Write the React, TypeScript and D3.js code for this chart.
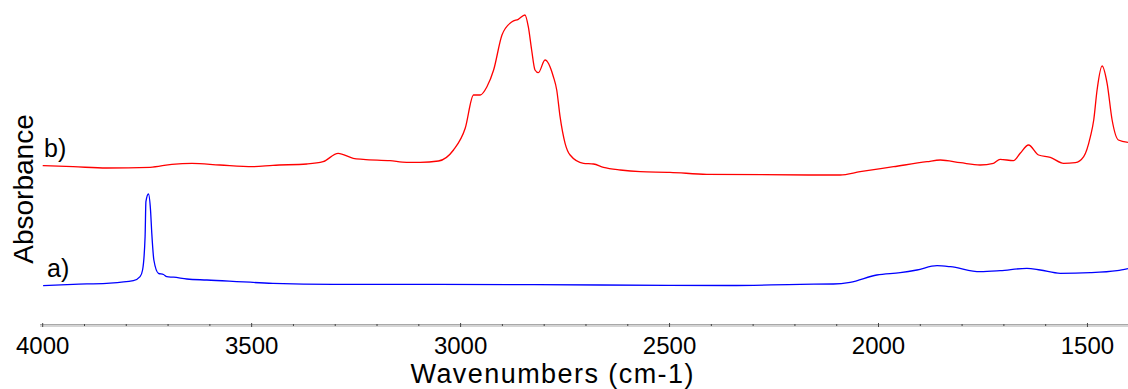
import { useEffect, useRef } from 'react';
import * as d3 from 'd3';

// trace b) (red), wavenumber cm-1 / absorbance
const waveB = [4000, 3927, 3847, 3743, 3691, 3643, 3576, 3497, 3449, 3368, 3329, 3293, 3257, 3233, 3169, 3129, 3097, 3053, 3017, 2989, 2969, 2953, 2937, 2921, 2901, 2877, 2862, 2846, 2838, 2830, 2822, 2814, 2798, 2778, 2770, 2762, 2750, 2738, 2706, 2682, 2658, 2618, 2570, 2499, 2411, 2163, 2092, 2044, 1964, 1884, 1852, 1804, 1757, 1725, 1709, 1677, 1661, 1641, 1617, 1589, 1557, 1529, 1509, 1493, 1485, 1477, 1465, 1453, 1441, 1426, 1403];
const absB = [1.593, 1.583, 1.57, 1.577, 1.607, 1.617, 1.6, 1.583, 1.597, 1.61, 1.633, 1.717, 1.667, 1.657, 1.643, 1.627, 1.627, 1.64, 1.75, 1.967, 2.3, 2.3, 2.383, 2.55, 2.9, 3.033, 3.057, 3.1, 2.983, 2.75, 2.55, 2.523, 2.65, 2.483, 2.35, 2.083, 1.817, 1.7, 1.617, 1.61, 1.577, 1.55, 1.533, 1.527, 1.507, 1.5, 1.5, 1.533, 1.583, 1.633, 1.65, 1.623, 1.6, 1.617, 1.657, 1.643, 1.717, 1.8, 1.7, 1.677, 1.617, 1.623, 1.683, 1.883, 2.05, 2.35, 2.59, 2.417, 2.05, 1.85, 1.827];

// trace a) (blue)
const waveA = [3999, 3927, 3847, 3783, 3767, 3761, 3755, 3753, 3747, 3742, 3739, 3734, 3723, 3711, 3703, 3687, 3655, 3607, 3449, 3305, 3054, 2666, 2355, 2187, 2108, 2068, 2004, 1948, 1908, 1860, 1828, 1757, 1709, 1645, 1613, 1565, 1493, 1429, 1403];
const absA = [0.393, 0.407, 0.417, 0.443, 0.483, 0.55, 0.883, 1.233, 1.31, 1.15, 0.92, 0.65, 0.517, 0.505, 0.483, 0.478, 0.46, 0.45, 0.417, 0.407, 0.407, 0.4, 0.395, 0.407, 0.41, 0.427, 0.5, 0.523, 0.55, 0.593, 0.583, 0.533, 0.543, 0.567, 0.55, 0.517, 0.523, 0.543, 0.563];

const majorTicks = [4000, 3500, 3000, 2500, 2000, 1500];

export default function App() {
  const svgRef = useRef<SVGSVGElement>(null);

  useEffect(() => {
    if (!svgRef.current) return;
    const svg = d3.select(svgRef.current);
    svg.selectAll('*').remove();

    const x = d3.scaleLinear().domain([4000, 1403]).range([42.7, 1128]);
    const y = d3.scaleLinear().domain([0, 3.1]).range([325, 15]);
    const font = 'Arial, "Liberation Sans", sans-serif';

    // axis line
    svg.append('line').attr('x1', 40).attr('x2', 1128).attr('y1', 324.5).attr('y2', 324.5)
      .attr('stroke', '#a8a8a8').attr('stroke-width', 1);
    svg.append('line').attr('x1', 40).attr('x2', 1128).attr('y1', 326).attr('y2', 326)
      .attr('stroke', '#d4d4d4').attr('stroke-width', 2);

    const minor = d3.range(4000, 1400, -100);
    svg.append('g').selectAll('line').data(minor).join('line')
      .attr('x1', (d) => x(d)).attr('x2', (d) => x(d))
      .attr('y1', (d) => (d % 500 === 0 ? 323 : 324))
      .attr('y2', (d) => (d % 500 === 0 ? 327 : 326))
      .attr('stroke', '#444').attr('stroke-width', 1);

    svg.append('g').selectAll('text').data(majorTicks).join('text')
      .attr('x', (d) => x(d)).attr('y', 354)
      .attr('text-anchor', 'middle').attr('font-family', font).attr('font-size', 24)
      .attr('fill', '#000').text((d) => d);

    svg.append('text').attr('x', 552).attr('y', 383).attr('text-anchor', 'middle')
      .attr('font-family', font).attr('font-size', 27).attr('textLength', 283)
      .text('Wavenumbers (cm-1)');

    svg.append('text').attr('transform', 'translate(33,189) rotate(-90)')
      .attr('text-anchor', 'middle').attr('font-family', font).attr('font-size', 28)
      .text('Absorbance');

    svg.append('text').attr('x', 44).attr('y', 157).attr('font-family', font)
      .attr('font-size', 25).text('b)');
    svg.append('text').attr('x', 47).attr('y', 277).attr('font-family', font)
      .attr('font-size', 25).text('a)');

    const line = d3.line<[number, number]>()
      .x((d) => x(d[0])).y((d) => y(d[1])).curve(d3.curveMonotoneX);

    svg.append('path').datum(d3.zip(waveB, absB) as [number, number][])
      .attr('d', line).attr('fill', 'none').attr('stroke', '#ff0000').attr('stroke-width', 1.3);
    svg.append('path').datum(d3.zip(waveA, absA) as [number, number][])
      .attr('d', line).attr('fill', 'none').attr('stroke', '#0000ff').attr('stroke-width', 1.3);
  }, []);

  return (
    <svg ref={svgRef} width={1128} height={389}
      style={{ position: 'absolute', left: 0, top: 0, background: '#fff' }} />
  );
}
